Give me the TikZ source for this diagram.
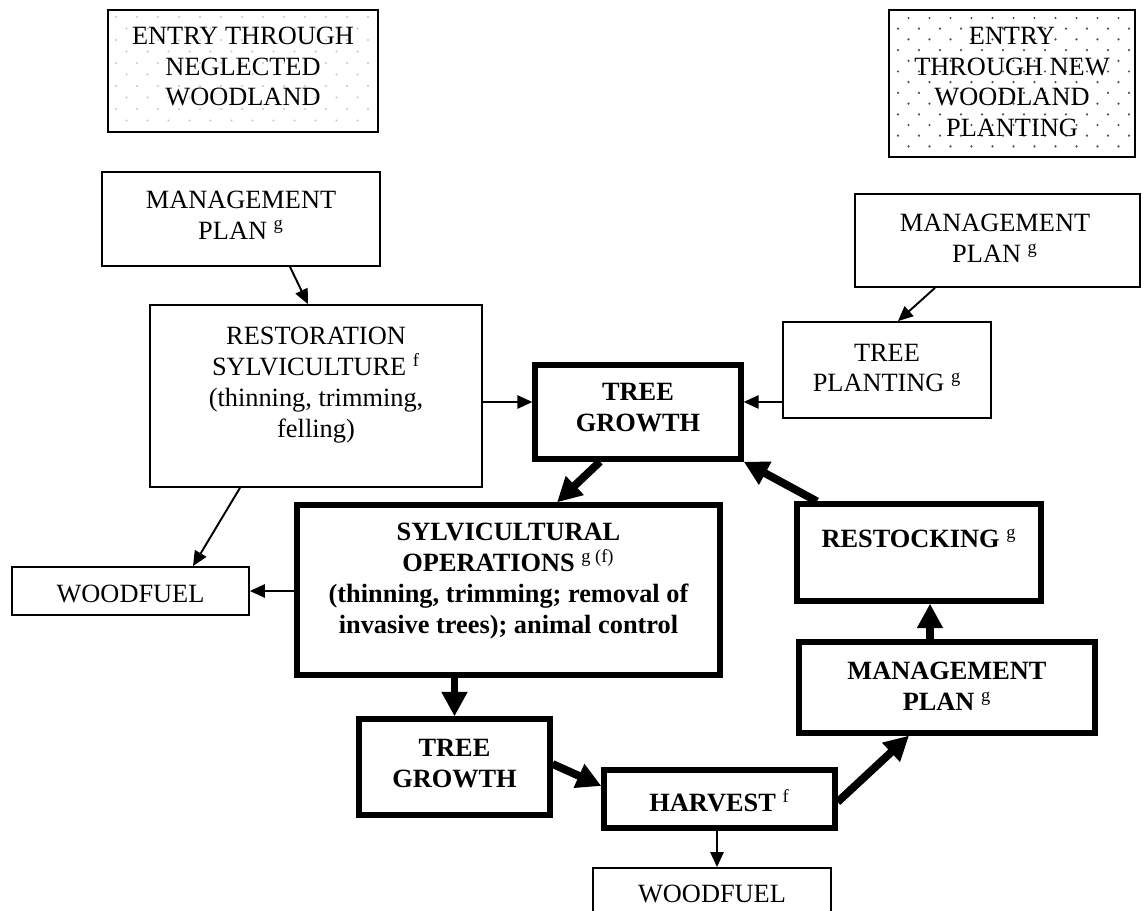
\documentclass[tikz,border=0pt]{standalone}
\usepackage{fontspec}
\setmainfont{Liberation Serif}
\usetikzlibrary{arrows.meta,calc}
\newcommand\supx[1]{\textsuperscript{\mdseries #1}}
\tikzset{
  thinbox/.style={draw, line width=1pt, inner sep=0pt},
  thickbox/.style={draw, line width=3pt, inner sep=0pt},
  txt/.style={align=center, inner sep=0pt, font=\fontsize{15}{17.6}\selectfont},
  btxt/.style={align=center, inner sep=0pt, font=\fontsize{15}{17.6}\selectfont\bfseries},
  thinarrow/.style={line width=1.1pt, -{Triangle[length=8.5pt,width=7.5pt]}},
  thickarrow/.style={line width=4.5pt, -{Triangle[length=14pt,width=14pt]}},
  lightdot/.style={fill=gray!45},
  darkdot/.style={fill=black!70}
}
\begin{document}
\begin{tikzpicture}[x=0.02cm,y=-0.02cm]
\useasboundingbox (0,0) rectangle (1144,911);

% dot patterns (drawn first, under the box borders)
\begin{scope}
  \clip (110,12) rectangle (376,130);
  \foreach \r in {0,...,10} \foreach \c in {0,...,13}
    \fill[lightdot] ({108+8+\c*21+mod(\r,2)*10.5},{10+7+\r*11.5}) circle (0.65pt);
\end{scope}
\begin{scope}
  \clip (891,12) rectangle (1133,155);
  \foreach \r in {0,...,13} \foreach \c in {0,...,12}
    \fill[darkdot] ({898+(1-mod(\r,2))*10.5+\c*21},{18+\r*10.7}) circle (0.7pt);
\end{scope}

% boxes
\node[thinbox, minimum width=5.40cm, minimum height=2.44cm] (entN) at (243,71) {};
\node[thinbox, minimum width=4.92cm, minimum height=2.94cm] (entW) at (1012,83.5) {};
\node[thinbox, minimum width=5.56cm, minimum height=1.88cm] (mpl) at (241,219) {};
\node[thinbox, minimum width=6.64cm, minimum height=3.64cm] (rest) at (316,396) {};
\node[thickbox, minimum width=4.12cm, minimum height=1.88cm] (tgt) at (638,412) {};
\node[thinbox, minimum width=5.70cm, minimum height=1.86cm] (mpr) at (997.5,240.5) {};
\node[thinbox, minimum width=4.16cm, minimum height=1.92cm] (tp) at (887,370) {};
\node[thickbox, minimum width=8.46cm, minimum height=3.40cm] (sylv) at (508.5,590) {};
\node[thinbox, minimum width=4.74cm, minimum height=0.96cm] (wfl) at (130.5,591) {};
\node[thickbox, minimum width=4.88cm, minimum height=1.94cm] (restk) at (919,552.5) {};
\node[thickbox, minimum width=5.92cm, minimum height=1.82cm] (mpb) at (947,687.5) {};
\node[thickbox, minimum width=3.82cm, minimum height=1.92cm] (tgb) at (454.5,767) {};
\node[thickbox, minimum width=4.62cm, minimum height=1.16cm] (harv) at (719.5,799) {};
\node[thinbox, minimum width=4.76cm, minimum height=1.84cm] (wfb) at (712,914) {};

% texts
\node[txt] (entN-t) at (243,66.5) {ENTRY THROUGH\\NEGLECTED\\WOODLAND};
\node[txt] (entW-t) at (1012,82) {ENTRY\\THROUGH NEW\\WOODLAND\\PLANTING};
\node[txt] (mpl-t) at (241,215) {MANAGEMENT\\PLAN \supx{g}};
\node[txt] (rest-t) at (316,385) {RESTORATION\\SYLVICULTURE \supx{f}\\(thinning, trimming,\\felling)};
\node[btxt] (tgt-t) at (638,407.5) {TREE\\GROWTH};
\node[txt] (mpr-t) at (995,238.5) {MANAGEMENT\\PLAN \supx{g}};
\node[txt] (tp-t) at (887,368) {TREE\\PLANTING \supx{g}};
\node[btxt] (sylv-t) at (508.5,581) {SYLVICULTURAL\\OPERATIONS \supx{g (f)}\\(thinning, trimming; removal of\\invasive trees); animal control};
\node[txt] (wfl-t) at (130.5,593.5) {WOODFUEL};
\node[btxt] (restk-t) at (919,538) {RESTOCKING \supx{g}};
\node[btxt] (mpb-t) at (947,686) {MANAGEMENT\\PLAN \supx{g}};
\node[btxt] (tgb-t) at (454.5,763.5) {TREE\\GROWTH};
\node[btxt] (harv-t) at (719.5,801) {HARVEST \supx{f}};
\node[txt] (wfb-t) at (712,894) {WOODFUEL};

% connectors
\draw[thinarrow] ($(mpl.south)+(49,0)$) -- ($(rest.north)+(-8,0)$);
\draw[thinarrow] ($(rest.east)+(0,6)$) -- ($(tgt.west)+(0,-10)$);
\draw[thinarrow] ($(mpr.south)+(-62.5,0)$) -- ($(tp.north)+(11,0)$);
\draw[thinarrow] ($(tp.west)+(0,32)$) -- ($(tgt.east)+(0,-10)$);
\draw[thinarrow] ($(rest.south)+(-76,0)$) -- ($(wfl.north)+(62.5,0)$);
\draw[thinarrow] ($(sylv.west)+(0,1)$) -- (wfl.east);
\draw[thickarrow] ($(tgt.south)+(-38,0)$) -- ($(sylv.north)+(48.5,0)$);
\draw[thickarrow] ($(restk.north)+(-102,0)$) -- (tgt.south east);
\draw[thickarrow] (tgb.north |- sylv.south) -- (tgb.north);
\draw[thickarrow] ($(tgb.east)+(0,-3)$) -- ($(harv.west)+(0,-13)$);
\draw[thickarrow] ($(harv.east)+(0,3)$) -- ($(mpb.south)+(-38,0)$);
\draw[thickarrow] ($(mpb.north)+(-17,0)$) -- ($(restk.south)+(11,0)$);
\draw[thinarrow] ($(harv.south)+(-2.5,0)$) -- ($(wfb.north)+(5,0)$);
\end{tikzpicture}
\end{document}
